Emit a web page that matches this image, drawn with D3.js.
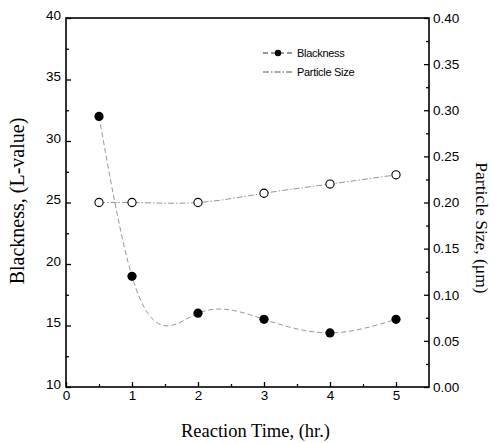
<!DOCTYPE html>
<html>
<head>
<meta charset="utf-8">
<script src="https://cdn.jsdelivr.net/npm/d3@7"></script>
<style>
  html, body { margin: 0; padding: 0; background: #fff; }
  svg { display: block; }
  .tick text { font-family: "Liberation Sans", Arial, sans-serif; font-size: 13.5px; fill: #000; }
  .title { font-family: "Liberation Serif", "Times New Roman", serif; fill: #000; }
  .legend text { font-family: "Liberation Sans", Arial, sans-serif; font-size: 11px; fill: #000; letter-spacing: -0.3px; }
</style>
</head>
<body>
<svg id="chart" width="495" height="443"></svg>
<script>
// Reaction time (hr.) and the two measured series
const times = [0.5, 1, 2, 3, 4, 5];
const blackness = [32, 19, 16, 15.5, 14.4, 15.5];          // L-value
const particleSize = [0.20, 0.20, 0.20, 0.21, 0.22, 0.23]; // µm

// Tick values
const xTicks = [0, 1, 2, 3, 4, 5];
const xMinorTicks = [0.5, 1.5, 2.5, 3.5, 4.5];
const leftTicks = [10, 15, 20, 25, 30, 35, 40];
const leftMinorTicks = [12.5, 17.5, 22.5, 27.5, 32.5, 37.5];
const rightTicks = [0, 0.05, 0.10, 0.15, 0.20, 0.25, 0.30, 0.35, 0.40];
const rightMinorTicks = [0.025, 0.075, 0.125, 0.175, 0.225, 0.275, 0.325, 0.375];

const seriesNames = ["Blackness", "Particle Size"];

// Natural cubic spline y(x) (non-parametric, honours the uneven x spacing),
// written as a d3 curve factory so d3.line can use it.
function splineSecondDerivs(xs, ys) {
  const n = xs.length, M = new Array(n).fill(0);
  const a = [], b = [], c = [], r = [];
  for (let i = 1; i < n - 1; i++) {
    const h0 = xs[i] - xs[i - 1], h1 = xs[i + 1] - xs[i];
    a.push(h0); b.push(2 * (h0 + h1)); c.push(h1);
    r.push(6 * ((ys[i + 1] - ys[i]) / h1 - (ys[i] - ys[i - 1]) / h0));
  }
  const m = b.length;
  for (let i = 1; i < m; i++) {
    const w = a[i] / b[i - 1];
    b[i] -= w * c[i - 1];
    r[i] -= w * r[i - 1];
  }
  const sol = new Array(m);
  if (m) sol[m - 1] = r[m - 1] / b[m - 1];
  for (let i = m - 2; i >= 0; i--) sol[i] = (r[i] - c[i] * sol[i + 1]) / b[i];
  for (let i = 0; i < m; i++) M[i + 1] = sol[i];
  return M;
}
function curveSplineX(context) {
  let xs, ys;
  return {
    areaStart() {}, areaEnd() {},
    lineStart() { xs = []; ys = []; },
    point(px, py) { xs.push(+px); ys.push(+py); },
    lineEnd() {
      const n = xs.length;
      if (!n) return;
      context.moveTo(xs[0], ys[0]);
      if (n === 2) { context.lineTo(xs[1], ys[1]); return; }
      const M = splineSecondDerivs(xs, ys);
      for (let i = 0; i < n - 1; i++) {
        const h = xs[i + 1] - xs[i];
        const d = (ys[i + 1] - ys[i]) / h;
        const m0 = d - h * (2 * M[i] + M[i + 1]) / 6;
        const m1 = d + h * (M[i] + 2 * M[i + 1]) / 6;
        context.bezierCurveTo(xs[i] + h / 3, ys[i] + m0 * h / 3,
                             xs[i + 1] - h / 3, ys[i + 1] - m1 * h / 3,
                             xs[i + 1], ys[i + 1]);
      }
    }
  };
}

const svg = d3.select("#chart");
const plotLeft = 66, plotRight = 429, plotTop = 18, plotBottom = 387;

const x = d3.scaleLinear().domain([0, 5.5]).range([plotLeft, plotRight]);
const yL = d3.scaleLinear().domain([10, 40]).range([plotBottom, plotTop]);
const yR = d3.scaleLinear().domain([0, 0.40]).range([plotBottom, plotTop]);

// Spline curves through the measured points
const lineB = d3.line().x((d, i) => x(times[i])).y(d => yL(d)).curve(curveSplineX);
const lineP = d3.line().x((d, i) => x(times[i])).y(d => yR(d)).curve(curveSplineX);

svg.append("path").attr("d", lineB(blackness))
  .attr("fill", "none").attr("stroke", "#8a8a8a").attr("stroke-width", 0.9)
  .attr("stroke-dasharray", "5,3");
svg.append("path").attr("d", lineP(particleSize))
  .attr("fill", "none").attr("stroke", "#8a8a8a").attr("stroke-width", 0.9)
  .attr("stroke-dasharray", "6,2,1.5,2");

// Markers
svg.append("g").selectAll("circle").data(blackness).join("circle")
  .attr("cx", (d, i) => x(times[i])).attr("cy", d => yL(d)).attr("r", 4.6)
  .attr("fill", "#000");
svg.append("g").selectAll("circle").data(particleSize).join("circle")
  .attr("cx", (d, i) => x(times[i])).attr("cy", d => yR(d)).attr("r", 4.1)
  .attr("fill", "#fff").attr("stroke", "#000").attr("stroke-width", 1.1);

// Axes with inward ticks
function styleAxis(g) {
  g.selectAll(".domain").remove();
  g.selectAll(".tick line").attr("stroke", "#000").attr("stroke-width", 1.3);
}
svg.append("g").attr("transform", `translate(0,${plotBottom})`)
  .call(d3.axisBottom(x).tickValues(xTicks).tickFormat(d3.format("d")).tickSize(-5).tickPadding(3))
  .call(styleAxis);
svg.append("g").attr("transform", `translate(0,${plotBottom})`)
  .call(d3.axisBottom(x).tickValues(xMinorTicks).tickFormat("").tickSize(-3))
  .call(styleAxis);

const gl = svg.append("g").attr("transform", `translate(${plotLeft},0)`)
  .call(d3.axisLeft(yL).tickValues(leftTicks).tickFormat(d3.format("d")).tickSize(-5).tickPadding(5))
  .call(styleAxis);
gl.selectAll(".tick text").attr("dy", "0.1em");
svg.append("g").attr("transform", `translate(${plotLeft},0)`)
  .call(d3.axisLeft(yL).tickValues(leftMinorTicks).tickFormat("").tickSize(-3))
  .call(styleAxis);

svg.append("g").attr("transform", `translate(${plotRight},0)`)
  .call(d3.axisRight(yR).tickValues(rightTicks).tickFormat(d3.format(".2f")).tickSize(-5).tickPadding(4))
  .call(styleAxis);
svg.append("g").attr("transform", `translate(${plotRight},0)`)
  .call(d3.axisRight(yR).tickValues(rightMinorTicks).tickFormat("").tickSize(-3))
  .call(styleAxis);

// Frame
svg.append("rect").attr("x", plotLeft).attr("y", plotTop)
  .attr("width", plotRight - plotLeft).attr("height", plotBottom - plotTop)
  .attr("fill", "none").attr("stroke", "#000").attr("stroke-width", 1.6);

// Axis titles
svg.append("text").attr("class", "title").style("font-size", "18.5px")
  .attr("x", (plotLeft + plotRight) / 2 + 8).attr("y", 437).attr("text-anchor", "middle")
  .text("Reaction Time, (hr.)");
svg.append("text").attr("class", "title").style("font-size", "20px")
  .attr("transform", "translate(24,201) rotate(-90)").attr("text-anchor", "middle")
  .text("Blackness, (L-value)");
svg.append("text").attr("class", "title").style("font-size", "17.5px")
  .attr("transform", "translate(476,228) rotate(90)").attr("text-anchor", "middle")
  .text("Particle Size, (\u03bcm)");

// Legend
const legend = svg.append("g").attr("class", "legend");
const ly = [53, 72];
legend.append("line").attr("x1", 263).attr("x2", 293).attr("y1", ly[0]).attr("y2", ly[0])
  .attr("stroke", "#333").attr("stroke-width", 1).attr("stroke-dasharray", "5,3");
legend.append("circle").attr("cx", 278).attr("cy", ly[0]).attr("r", 3.2).attr("fill", "#000");
legend.append("line").attr("x1", 263).attr("x2", 293).attr("y1", ly[1]).attr("y2", ly[1])
  .attr("stroke", "#555").attr("stroke-width", 1).attr("stroke-dasharray", "6,2,1.5,2");
legend.selectAll("text").data(seriesNames).join("text")
  .attr("x", 297).attr("y", (d, i) => ly[i]).attr("dy", "0.35em")
  .text(d => d);
</script>
</body>
</html>
